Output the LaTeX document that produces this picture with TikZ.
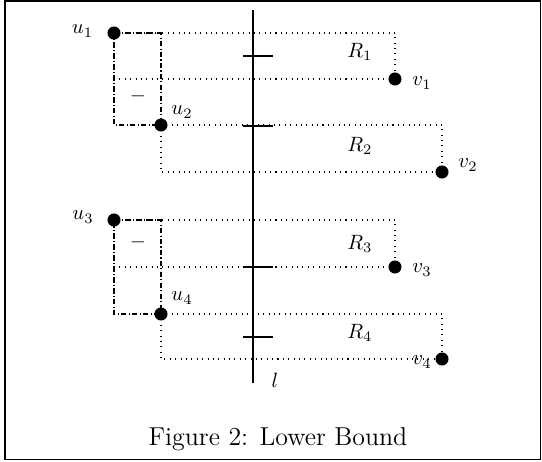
\documentclass[tikz,border=0pt]{standalone}
\begin{document}
\begin{tikzpicture}[x=0.483pt,y=-0.483pt,
  pt/.style={circle,fill=black,inner sep=0pt,minimum size=6.3pt},
  dots/.style={line width=0.5pt,dash pattern=on 0.5pt off 2.1pt},
  dd/.style={line width=0.5pt,dash pattern=on 2.6pt off 1.1pt on 0.5pt off 1.1pt},
  tick/.style={line width=0.6pt},
  lab/.style={inner sep=0pt}]
\useasboundingbox (0,0) rectangle (542,462);
\draw[line width=0.6pt] (5,1) rectangle (540.5,459.5);
% line l
\coordinate (ltop) at (253,10);
\coordinate (lbot) at (253,383);
\draw[line width=0.6pt] (ltop) -- (lbot);
\node[lab] at (275,380) {$l$};
% points
\node[pt] (u1) at (114,33) {};
\node[pt] (v1) at (395,79) {};
\node[pt] (u2) at (161,125) {};
\node[pt] (v2) at (442,172) {};
\node[pt] (u3) at (114,220) {};
\node[pt] (v3) at (395,267) {};
\node[pt] (u4) at (161,314) {};
\node[pt] (v4) at (442,359) {};
% R1
\draw[dots] (u1.center) -- (u1.center -| v1.center) -- (v1.center);
\draw[dots] (u1.center |- v1.center) -- (v1.center);
% R2
\draw[dots] (u2.center) -- (u2.center -| v2.center) -- (v2.center);
\draw[dots] (u2.center) -- (u2.center |- v2.center) -- (v2.center);
% R3
\draw[dots] (u3.center) -- (u3.center -| v3.center) -- (v3.center);
\draw[dots] (u3.center |- v3.center) -- (v3.center);
% R4
\draw[dots] (u4.center) -- (u4.center -| v4.center) -- (v4.center);
\draw[dots] (u4.center) -- (u4.center |- v4.center) -- (v4.center);
% dash-dot boxes
\draw[dd] (u1.center) -- (u1.center -| u2.center) -- (u2.center) -- (u2.center -| u1.center) -- cycle;
\draw[dd] (u3.center) -- (u3.center -| u4.center) -- (u4.center) -- (u4.center -| u3.center) -- cycle;
% ticks
\foreach \y in {56,126,267,337} \draw[tick] (243,\y) -- (273,\y);
% labels
\node[lab] at (82.5,31) {$u_1$};
\node[lab] at (182,112) {$u_2$};
\node[lab] at (83,217) {$u_3$};
\node[lab] at (182,298) {$u_4$};
\node[lab] at (422,83) {$v_1$};
\node[lab] at (468,165) {$v_2$};
\node[lab] at (422,270) {$v_3$};
\node[lab] at (422,362) {$v_4$};
\node[lab] at (360,52) {$R_1$};
\node[lab] at (360,146) {$R_2$};
\node[lab] at (360,244) {$R_3$};
\node[lab] at (360,333) {$R_4$};
\node[lab] at (138,96) {$-$};
\node[lab] at (138,242) {$-$};
\node[lab,anchor=base,font=\fontsize{12.5}{15}\selectfont] at (278,446) {Figure 2: Lower Bound};
\end{tikzpicture}
\end{document}
